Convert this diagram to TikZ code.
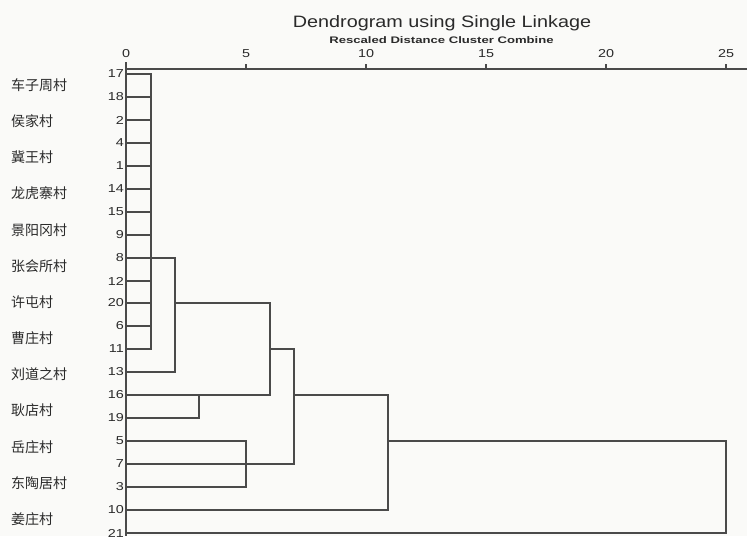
\documentclass[tikz,border=0pt]{standalone}
\usepackage{fontspec}
\setmainfont{Liberation Sans}
\newfontfamily\cjk{Noto Sans CJK SC}
\usepackage{graphicx}
\definecolor{ink}{HTML}{4A4A4A}
\definecolor{txt}{HTML}{2A2A2A}
\definecolor{paper}{HTML}{FAFAF8}
\begin{document}
\begin{tikzpicture}[x=1pt,y=-1pt,
  num/.style={font=\fontsize{11.5}{13}\selectfont, text=txt, inner sep=0pt},
  cn/.style={font=\cjk\fontsize{14}{16}\selectfont, anchor=west, inner sep=0pt, text=txt},
  link/.style={draw=ink, line width=2pt, line join=miter},
  axisline/.style={draw=ink, line width=1.5pt}]
\fill[paper] (0,0) rectangle (747,536);
\useasboundingbox (0,0) rectangle (747,536);
% titles
\node[anchor=base, inner sep=0pt, text=txt] (title) at (442,27)
  {\fontsize{16.5}{18}\selectfont\scalebox{1.2}[1]{Dendrogram using Single Linkage}};
\node[anchor=base, inner sep=0pt, text=txt] (subtitle) at (441.5,43)
  {\fontsize{9.5}{11}\selectfont\bfseries\scalebox{1.38}[1]{Rescaled Distance Cluster Combine}};
% axis
\coordinate (top) at (126,62);
\coordinate (bot) at (126,536);
\coordinate (axend) at (747,69);
\draw[axisline] (top) -- (bot);
\draw[axisline] (top |- axend) -- (axend);
\foreach \v in {0,5,10,15,20,25} {
  \pgfmathsetmacro\xx{126+24*\v}
  \coordinate (t\v) at (\xx,69);
  \coordinate (tt\v) at (\xx,64);
  \draw[axisline] (tt\v) -- (t\v);
  \node[num] (lab\v) at (\xx,54) {\scalebox{1.25}[1]{\v}};
}
% leaves
\foreach \n [count=\i from 0] in {17,18,2,4,1,14,15,9,8,12,20,6,11,13,16,19,5,7,3,10,21} {
  \pgfmathsetmacro\yy{round(74+22.95*\i)}
  \coordinate (r\n) at (126,\yy);
  \node[num, anchor=east] (n\n) at (124,\yy) {\scalebox{1.25}[1]{\n}};
}
% merge levels
\coordinate (xa) at (151,0);
\coordinate (xb) at (175,0);
\coordinate (xc) at (199,0);
\coordinate (xe) at (246,0);
\coordinate (xd) at (270,0);
\coordinate (xf) at (294,0);
\coordinate (xg) at (388,0);
\coordinate (xh) at (726,0);
% cluster a
\foreach \n in {18,2,4,1,14,15,9,12,20,6} \draw[link] (r\n) -- (r\n -| xa);
\draw[link] (r17) -- (r17 -| xa) -- (r11 -| xa) -- (r11);
% cluster b
\draw[link] (r8) -- (r8 -| xb) -- (r13 -| xb) -- (r13);
% cluster c
\draw[link] (r19) -- (r19 -| xc) -- (r16 -| xc);
% cluster d
\draw[link] (r20 -| xb) -- (r20 -| xd) -- (r16 -| xd) -- (r16);
% cluster e
\draw[link] (r5) -- (r5 -| xe) -- (r3 -| xe) -- (r3);
% cluster f
\draw[link] (r11 -| xd) -- (r11 -| xf) -- (r7 -| xf) -- (r7);
% cluster g
\draw[link] (r16 -| xf) -- (r16 -| xg) -- (r10 -| xg) -- (r10);
% cluster h
\draw[link] (r5 -| xg) -- (r5 -| xh) -- (r21 -| xh) -- (r21);
% village names
\foreach \t [count=\k from 0] in {车子周村,侯家村,冀王村,龙虎寨村,景阳冈村,张会所村,许屯村,曹庄村,刘道之村,耿店村,岳庄村,东陶居村,姜庄村} {
  \pgfmathsetmacro\yy{85+36.17*\k}
  \node[cn] (v\k) at (11,\yy) {\t};
}
\end{tikzpicture}
\end{document}
